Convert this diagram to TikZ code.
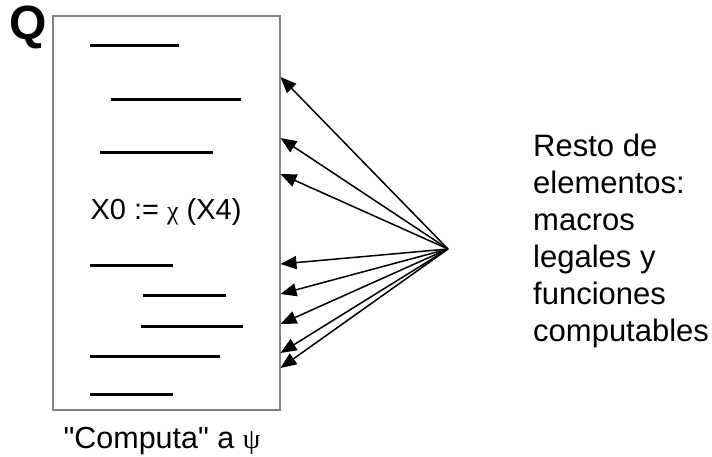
\documentclass[tikz,border=0pt]{standalone}
\usepackage{fontspec}
\setmainfont{Liberation Sans}
\newfontfamily\greekfont{Liberation Serif}
\usetikzlibrary{arrows.meta,positioning,calc}
\definecolor{frame}{HTML}{808080}

\begin{document}
\begin{tikzpicture}[x=1pt, y=-1pt,
    stmt/.style={line width=3pt},
    arr/.style={-{Triangle[length=16pt,width=13pt]}, line width=1.5pt}]
    \useasboundingbox (0,0) rectangle (712,456);
    % Program box
    \node[draw=frame, line width=1.5pt, anchor=north west, inner sep=0pt,
          minimum width=227pt, minimum height=394pt] (prog) at (52,15) {};
    \node[font=\fontsize{48}{48}\selectfont\bfseries, anchor=base] (q) at (28.5,39) {Q};
    % Statement lines
    \foreach \a/\b/\y in {90/179/45, 111/241/99, 100/213/152, 90/173/265,
                          143/226/295, 141/243/326, 90/220/356, 90/173/394} {
      \draw[stmt] (\a,\y) -- (\b,\y);
    }
    \node[font=\fontsize{29}{29}\selectfont, anchor=base] (macro) at (166,219)
      {X0 := {\greekfont\fontsize{26}{26}\selectfont χ} (X4)};
    \node[font=\fontsize{30.5}{30.5}\selectfont, anchor=base] (caption) at (162,448)
      {\textquotedbl Computa\textquotedbl{} a {\greekfont\fontsize{28}{28}\selectfont ψ}};
    % Other elements
    \node[font=\fontsize{31}{37}\selectfont, align=left, anchor=north west,
          inner sep=0pt] (rest) at (533,134)
      {Resto de\\elementos:\\macros\\legales y\\funciones\\computables};
    % Arrows into the box
    \coordinate (src) at (448,249);
    \foreach \y [count=\i] in {77,138,174,264,294,324,353,368} {
      \coordinate (tip-\i) at (prog.east |- 0,\y);
      \draw[arr] (src) -- (tip-\i);
    }
  \end{tikzpicture}
\end{document}
